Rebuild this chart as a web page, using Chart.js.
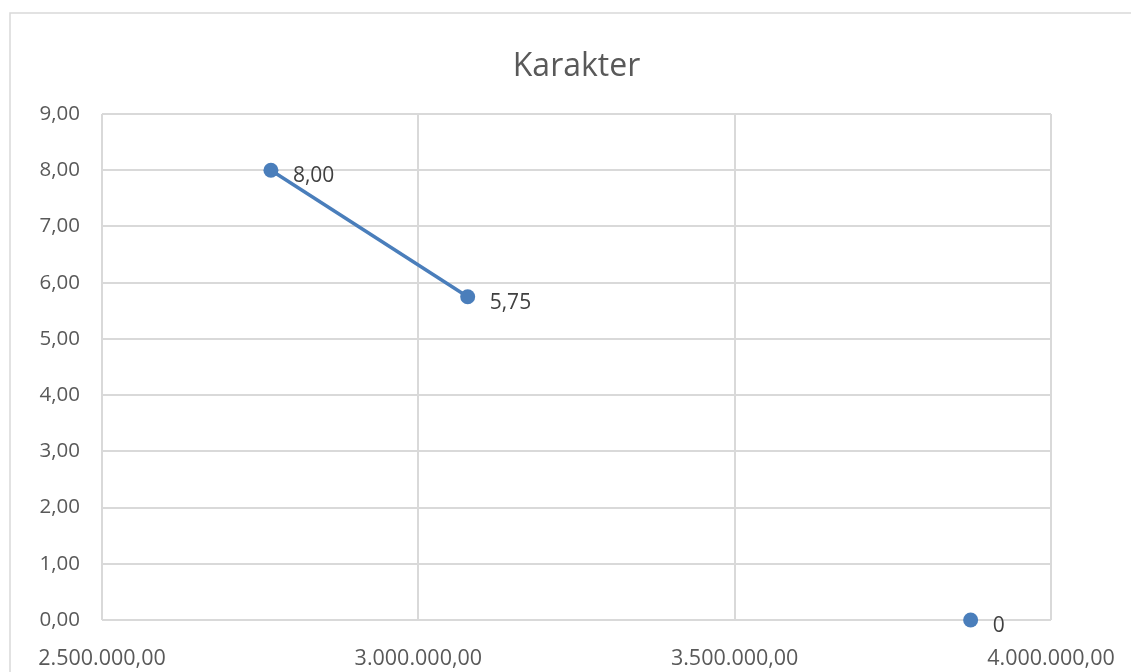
<!DOCTYPE html>
<html>
<head>
<meta charset="utf-8">
<script src="https://cdn.jsdelivr.net/npm/chart.js@4"></script>
<style>
    html, body { margin: 0; padding: 0; background: #fff; }
    #wrap { width: 1131px; height: 672px; position: relative; }
</style>
</head>
<body>
<div id="wrap"><canvas id="chart"></canvas></div>
<script>
// data
const xValues = [2767000, 3078000, 3873000];
const yValues = [8.00, 5.75, 0];
const pointLabels = ['8,00', '5,75', '0'];
const xTickLabels = ['2.500.000,00', '3.000.000,00', '3.500.000,00', '4.000.000,00'];
const yTickLabels = ['0,00', '1,00', '2,00', '3,00', '4,00', '5,00', '6,00', '7,00', '8,00', '9,00'];
const chartTitle = 'Karakter';

const textColor = '#595959';
const seriesColor = '#4a7ebb';
const gridColor = '#d9d9d9';

// outer frame + title (title is centred over the plot area, like Excel does)
const framePlugin = {
    id: 'frame',
    beforeDraw(chart) {
        const ctx = chart.ctx;
        const area = chart.chartArea;
        ctx.save();
        ctx.strokeStyle = '#d9d9d9';
        ctx.lineWidth = 1.5;
        ctx.strokeRect(10, 13, 1200, 700);
        ctx.font = '32px "Open Sans"';
        ctx.fillStyle = textColor;
        ctx.textAlign = 'center';
        ctx.textBaseline = 'middle';
        ctx.fillText(chartTitle, (area.left + area.right) / 2, 67);
        ctx.restore();
    }
};

// value labels to the right of each marker
const labelPlugin = {
    id: 'pointLabels',
    afterDatasetsDraw(chart) {
        const ctx = chart.ctx;
        const meta = chart.getDatasetMeta(0);
        ctx.save();
        ctx.font = '21px "Open Sans"';
        ctx.fillStyle = '#404040';
        ctx.textAlign = 'left';
        ctx.textBaseline = 'middle';
        meta.data.forEach((pt, i) => {
            ctx.fillText(pointLabels[i], pt.x + 22, pt.y + 6);
        });
        ctx.restore();
    }
};

const points = xValues.map((x, i) => ({ x: x, y: yValues[i] }));

new Chart(document.getElementById('chart'), {
    type: 'scatter',
    data: {
        datasets: [{
            data: points,
            showLine: true,
            borderColor: seriesColor,
            backgroundColor: seriesColor,
            borderWidth: 3.5,
            pointRadius: 7.5,
            pointHoverRadius: 7.5,
            pointBorderWidth: 0,
            clip: false,
            segment: {
                // the last point stands alone, no line to it
                borderColor: ctx => ctx.p1DataIndex === 2 ? 'rgba(0,0,0,0)' : seriesColor
            }
        }]
    },
    plugins: [framePlugin, labelPlugin],
    options: {
        responsive: true,
        maintainAspectRatio: false,
        animation: false,
        layout: { padding: { left: 0, right: 80, top: 114, bottom: 0 } },
        plugins: {
            legend: { display: false },
            tooltip: { enabled: false },
            title: { display: false }
        },
        scales: {
            x: {
                type: 'linear',
                min: 2500000,
                max: 4000000,
                afterBuildTicks: axis => {
                    axis.ticks = xTickLabels.map((l, i) => ({ value: 2500000 + i * 500000 }));
                },
                afterFit: axis => {
                    axis.height = 52;
                    axis.paddingLeft = 0;
                    axis.paddingRight = 0;
                },
                ticks: {
                    color: textColor,
                    font: { family: '"Open Sans"', size: 21.5 },
                    padding: 26,
                    maxRotation: 0,
                    autoSkip: false,
                    callback: (v, i) => xTickLabels[i]
                },
                grid: { color: gridColor, lineWidth: 2, drawTicks: false },
                border: { display: false }
            },
            y: {
                min: 0,
                max: 9,
                afterBuildTicks: axis => {
                    axis.ticks = yTickLabels.map((l, i) => ({ value: i }));
                },
                afterFit: axis => {
                    axis.width = 102;
                    axis.paddingTop = 0;
                    axis.paddingBottom = 0;
                },
                ticks: {
                    color: textColor,
                    font: { family: '"Open Sans"', size: 20.5 },
                    padding: 22,
                    autoSkip: false,
                    callback: (v, i) => yTickLabels[i]
                },
                grid: { color: gridColor, lineWidth: 2, drawTicks: false },
                border: { display: false }
            }
        }
    }
});
</script>
</body>
</html>
